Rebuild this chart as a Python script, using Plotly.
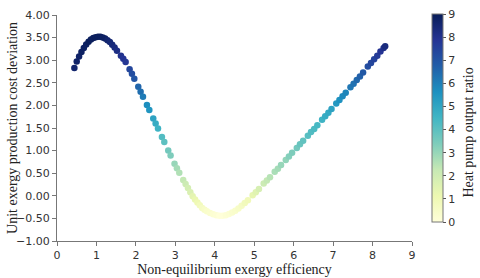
import plotly.graph_objects as go
import plotly.express as px

# Left branch (efficiency, cost deviation, heat pump output ratio)
left_x = [0.44,0.50,0.56,0.62,0.68,0.74,0.80,0.86,0.92,0.98,1.04,1.10,1.16,1.22,1.28,1.34,1.40,1.46,1.52,
          1.62,1.68,1.74, 1.84,1.90,1.96, 2.06,2.12,2.18, 2.28,2.34, 2.44,2.50,2.56, 2.66,2.72, 2.82,2.88,
          2.98,3.04,3.10, 3.20,3.26,3.32,3.38,3.44,3.50,3.56,3.62,3.68,3.74,3.80,3.88,3.96,4.04,4.12]
left_y = [2.83,2.97,3.08,3.18,3.27,3.35,3.41,3.46,3.49,3.51,3.52,3.52,3.50,3.48,3.44,3.40,3.34,3.28,3.21,
          3.10,3.03,2.96, 2.80,2.70,2.59, 2.41,2.30,2.19, 2.01,1.90, 1.71,1.60,1.49, 1.30,1.19, 1.00,0.89,
          0.71,0.61,0.51, 0.35,0.26,0.17,0.08,-0.01,-0.08,-0.15,-0.21,-0.27,-0.31,-0.34,-0.38,-0.41,-0.43,-0.44]
left_c = [8.6,8.7,8.7,8.8,8.8,8.8,8.9,8.9,8.9,8.9,8.9,8.9,8.8,8.8,8.6,8.5,8.4,8.3,8.2,
          8.0,7.9,7.8, 7.4,7.2,7.0, 6.6,6.4,6.1, 5.7,5.5, 5.1,4.8,4.6, 4.2,4.0, 3.6,3.4,
          3.0,2.8,2.6, 2.3,2.1,1.9,1.7,1.4,1.2,1.0,0.8,0.6,0.5,0.4,0.3,0.2,0.1,0.0]

# Right branch
right_x = [4.20,4.28,4.36,4.44,4.52,4.60,4.68,4.76,4.84, 4.96,5.04,5.12, 5.24,5.32,5.40, 5.52,5.60,5.68,
           5.80,5.88,5.96, 6.08,6.16,6.24, 6.36,6.44,6.52,6.60, 6.72,6.80,6.88,6.96, 7.08,7.16,7.24,7.32,
           7.44,7.52,7.60,7.68,7.76, 7.88,7.96,8.04,8.12,8.20,8.28,8.32]
right_y = [-0.44,-0.43,-0.40,-0.37,-0.33,-0.28,-0.22,-0.16,-0.10, 0.01,0.08,0.15, 0.27,0.34,0.41, 0.53,0.60,0.68,
           0.79,0.87,0.95, 1.06,1.14,1.22, 1.33,1.41,1.48,1.56, 1.68,1.76,1.84,1.92, 2.04,2.12,2.20,2.28,
           2.40,2.48,2.56,2.64,2.73, 2.86,2.94,3.02,3.10,3.19,3.27,3.31]
right_c = [0.0,0.1,0.2,0.3,0.4,0.5,0.6,0.8,0.9, 1.3,1.5,1.8, 2.1,2.3,2.5, 2.7,2.8,3.0,
           3.1,3.3,3.4, 3.6,3.8,3.9, 4.1,4.2,4.3,4.4, 4.6,4.8,4.9,5.1, 5.4,5.6,5.8,5.9,
           6.2,6.3,6.5,6.7,6.9, 7.2,7.4,7.5,7.7,7.9,8.1,8.3]

x_ticks = [0,1,2,3,4,5,6,7,8,9]
y_ticks = [-1.0,-0.5,0.0,0.5,1.0,1.5,2.0,2.5,3.0,3.5,4.0]
cbar_ticks = [0,1,2,3,4,5,6,7,8,9]

xs = left_x + right_x
ys = left_y + right_y
cs = left_c + right_c

scale = px.colors.sequential.YlGnBu
serif = "Liberation Serif"

fig = go.Figure(go.Scatter(
    x=xs, y=ys, mode="markers",
    marker=dict(size=6.5, color=cs, colorscale=scale, cmin=0, cmax=9,
                line=dict(width=0),
                colorbar=dict(
                    tickvals=cbar_ticks, ticks="outside", ticklen=3, tickcolor="#555",
                    tickfont=dict(family="DejaVu Sans", size=11, color="#333"),
                    thickness=11, lenmode="fraction", len=0.92,
                    x=1.056, xanchor="left", y=0.084, yanchor="bottom",
                    outlinewidth=1, outlinecolor="#777", xpad=0, ypad=0)),
    showlegend=False))

fig.add_annotation(text="Heat pump output ratio", textangle=-90, showarrow=False,
                   xref="paper", yref="paper", x=1.158, y=0.48,
                   xanchor="center", yanchor="middle",
                   font=dict(family=serif, size=14, color="#222"))
fig.add_annotation(text="Unit exergy production cost deviation", textangle=-90, showarrow=False,
                   xref="paper", yref="paper", x=-0.127, y=0.5,
                   xanchor="center", yanchor="middle",
                   font=dict(family=serif, size=14, color="#222"))

fig.update_layout(
    width=480, height=278,
    margin=dict(l=57, r=68, t=15, b=37, autoexpand=False),
    paper_bgcolor="white", plot_bgcolor="white",
    font=dict(family="DejaVu Sans", size=11, color="#333"),
)
fig.update_xaxes(range=[0, 9], tickvals=x_ticks, showgrid=False, zeroline=False,
                 showline=True, linecolor="#777", linewidth=1, ticks="outside", ticklen=4,
                 tickcolor="#777", tickfont=dict(size=11, color="#333"),
                 title=dict(text="Non-equilibrium exergy efficiency", standoff=2,
                            font=dict(family=serif, size=14, color="#222")))
fig.update_yaxes(range=[-1, 4], tickvals=y_ticks, tickformat=".2f", showgrid=False, zeroline=False,
                 showline=True, linecolor="#777", linewidth=1, ticks="outside", ticklen=4,
                 tickcolor="#777", tickfont=dict(size=11, color="#333"))

fig.write_html("out.html", config={"displayModeBar": False},
               post_script="document.body.style.margin='0';")
